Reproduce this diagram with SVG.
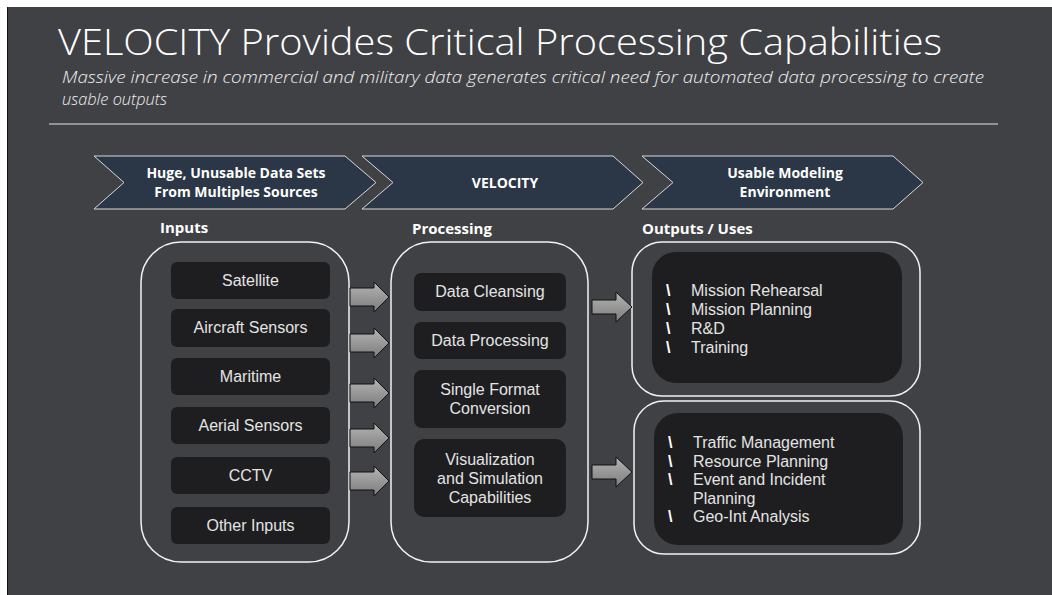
<svg xmlns="http://www.w3.org/2000/svg" width="1052" height="595" viewBox="0 0 1052 595">
<defs>
<linearGradient id="ag" x1="0" y1="0" x2="0" y2="1">
<stop offset="0" stop-color="#b4b4b4"/>
<stop offset="1" stop-color="#7c7c7c"/>
</linearGradient>
<style>
.t{font-family:"Open Sans","Liberation Sans",sans-serif;fill:#ffffff}
.s{font-family:"Liberation Sans","Open Sans",sans-serif}
.title{font-size:37px;font-weight:300}
.sub{font-size:15.5px;font-style:italic;font-weight:300;fill:#f0f0f0}
.chev{fill:#2b3646;stroke:#d9d9d9;stroke-width:1}
.ct{font-size:14px;font-weight:700;text-anchor:middle}
.lab{font-size:15px;font-weight:700}
.cont{fill:none;stroke:#f2f2f2;stroke-width:1.5}
.box{fill:#1e1e20}
.bt{font-size:16px;fill:#e4e4e4;text-anchor:middle}
.lt{font-size:16px;fill:#e4e4e4}
.bl{font-size:16px;font-weight:700;fill:#ffffff}
.arr{fill:url(#ag);stroke:#111111;stroke-width:1}
</style>
</defs>
<rect x="0" y="0" width="1052" height="595" fill="#ffffff"/>
<rect x="7" y="7" width="1045" height="588" fill="#404144"/>
<line x1="7.5" y1="7" x2="7.5" y2="595" stroke="#111111" stroke-width="1"/>

<g id="header">
<text class="t title" x="58" y="55" textLength="884" lengthAdjust="spacingAndGlyphs">VELOCITY Provides Critical Processing Capabilities</text>
<text class="t sub" x="62" y="83" textLength="922" lengthAdjust="spacingAndGlyphs">Massive increase in commercial and military data generates critical need for automated data processing to create</text>
<text class="t sub" x="62" y="105" textLength="105" lengthAdjust="spacingAndGlyphs">usable outputs</text>
<line x1="49" y1="124" x2="998" y2="124" stroke="#e6e6e6" stroke-width="1"/>
</g>

<g id="chevron-inputs">
<polygon class="chev" points="94,156 345,156 376,182.5 345,209 94,209 124,182.5"/>
<text class="t ct" x="236" y="178">Huge, Unusable Data Sets</text>
<text class="t ct" x="236" y="197">From Multiples Sources</text>
</g>
<g id="chevron-velocity">
<polygon class="chev" points="362,156 613,156 643,182.5 613,209 362,209 393,182.5"/>
<text class="t ct" x="505" y="188">VELOCITY</text>
</g>
<g id="chevron-outputs">
<polygon class="chev" points="642,156 893,156 923,182.5 893,209 642,209 673,182.5"/>
<text class="t ct" x="785" y="178">Usable Modeling</text>
<text class="t ct" x="785" y="197">Environment</text>
</g>

<g id="label-inputs"><text class="t lab" x="160" y="233">Inputs</text></g>
<g id="label-processing"><text class="t lab" x="412" y="234">Processing</text></g>
<g id="label-outputs"><text class="t lab" x="642" y="234">Outputs / Uses</text></g>

<g id="inputs">
<rect class="cont" x="141" y="242" width="208" height="320" rx="40"/>
<g id="in-satellite"><rect class="box" x="171" y="262" width="159" height="37" rx="6"/><text class="s bt" x="250.5" y="286">Satellite</text></g>
<g id="in-aircraft"><rect class="box" x="171" y="309" width="159" height="38" rx="6"/><text class="s bt" x="250.5" y="333">Aircraft Sensors</text></g>
<g id="in-maritime"><rect class="box" x="171" y="358" width="159" height="37" rx="6"/><text class="s bt" x="250.5" y="382">Maritime</text></g>
<g id="in-aerial"><rect class="box" x="171" y="407" width="159" height="37" rx="6"/><text class="s bt" x="250.5" y="431">Aerial Sensors</text></g>
<g id="in-cctv"><rect class="box" x="171" y="457" width="159" height="37" rx="6"/><text class="s bt" x="250.5" y="481">CCTV</text></g>
<g id="in-other"><rect class="box" x="171" y="507" width="159" height="37" rx="6"/><text class="s bt" x="250.5" y="531">Other Inputs</text></g>
</g>

<g id="processing">
<rect class="cont" x="391" y="242" width="197" height="320" rx="40"/>
<g id="p-cleansing"><rect class="box" x="414" y="273" width="152" height="38" rx="7"/><text class="s bt" x="490" y="297">Data Cleansing</text></g>
<g id="p-processing"><rect class="box" x="414" y="322" width="152" height="37" rx="7"/><text class="s bt" x="490" y="346">Data Processing</text></g>
<g id="p-format"><rect class="box" x="414" y="370" width="152" height="58" rx="8"/><text class="s bt" x="490" y="395">Single Format</text><text class="s bt" x="490" y="414">Conversion</text></g>
<g id="p-vis"><rect class="box" x="414" y="439" width="152" height="78" rx="10"/><text class="s bt" x="490" y="465">Visualization</text><text class="s bt" x="490" y="484">and Simulation</text><text class="s bt" x="490" y="503">Capabilities</text></g>
</g>

<g id="outputs-military">
<rect class="cont" x="632" y="242" width="288" height="154" rx="30"/>
<rect class="box" x="652" y="252" width="250" height="131" rx="24"/>
<text class="s bl" x="666" y="296">\</text><text class="s lt" x="691" y="296">Mission Rehearsal</text>
<text class="s bl" x="666" y="315">\</text><text class="s lt" x="691" y="315">Mission Planning</text>
<text class="s bl" x="666" y="334">\</text><text class="s lt" x="691" y="334">R&amp;D</text>
<text class="s bl" x="666" y="353">\</text><text class="s lt" x="691" y="353">Training</text>
</g>

<g id="outputs-civil">
<rect class="cont" x="634" y="401" width="286" height="153" rx="30"/>
<rect class="box" x="654" y="413" width="249" height="132" rx="24"/>
<text class="s bl" x="668" y="448">\</text><text class="s lt" x="693" y="448">Traffic Management</text>
<text class="s bl" x="668" y="466.5">\</text><text class="s lt" x="693" y="466.5">Resource Planning</text>
<text class="s bl" x="668" y="485">\</text><text class="s lt" x="693" y="485">Event and Incident</text>
<text class="s lt" x="693" y="503.5">Planning</text>
<text class="s bl" x="668" y="522">\</text><text class="s lt" x="693" y="522">Geo-Int Analysis</text>
</g>

<g id="connectors">
<polygon class="arr" points="350,288 374,288 374,282 389,297 374,312 374,306 350,306"/>
<polygon class="arr" points="350,334 374,334 374,328 389,343 374,358 374,352 350,352"/>
<polygon class="arr" points="350,384 374,384 374,378 389,393 374,408 374,402 350,402"/>
<polygon class="arr" points="350,429 374,429 374,423 389,438 374,453 374,447 350,447"/>
<polygon class="arr" points="350,472 374,472 374,466 389,481 374,496 374,490 350,490"/>
<polygon class="arr" points="592,300 616,300 616,292 632,307 616,322 616,314 592,314"/>
<polygon class="arr" points="592,465 616,465 616,457 632,472 616,487 616,479 592,479"/>
</g>
</svg>
